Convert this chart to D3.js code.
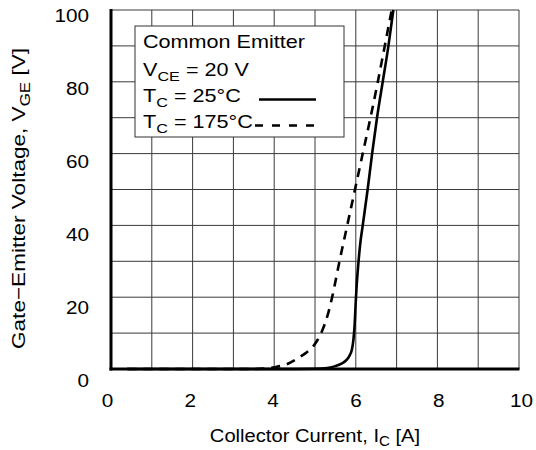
<!DOCTYPE html>
<html>
<head>
<meta charset="utf-8">
<script src="https://cdn.jsdelivr.net/npm/d3@7"></script>
<style>
  body { margin: 0; background: #fff; }
  svg { font-family: "Liberation Sans", Arial, Helvetica, sans-serif; }
</style>
</head>
<body>
<svg id="chart" width="536" height="450"></svg>
<script>
// Transfer curves
const ic25 = [0.4, 4.5, 5.0, 5.3, 5.5, 5.65, 5.78, 5.85, 5.9, 5.94, 5.97, 6.0, 6.02, 6.06, 6.11, 6.17, 6.29, 6.40, 6.52, 6.66, 6.80, 6.92];
const vge25 = [0, 0, 0.05, 0.3, 0.8, 1.5, 2.6, 3.8, 5.2, 8, 12, 19, 23, 29, 35, 40, 50, 60, 70, 80, 90, 100];
const ic175 = [0.4, 3.5, 4.0, 4.3, 4.55, 4.78, 4.9, 5.02, 5.17, 5.31, 5.42, 5.60, 5.79, 5.98, 6.17, 6.36, 6.54, 6.71, 6.88];
const vge175 = [0, 0, 0.5, 1.3, 2.8, 4.5, 5.6, 7.3, 10.5, 15, 20, 30, 40, 50, 60, 70, 80, 90, 100];

const xTicks = [0, 2, 4, 6, 8, 10];
const yTicks = [0, 20, 40, 60, 80, 100];
const xGrid = d3.range(0, 11, 1);
const yGrid = d3.range(0, 101, 10);

const svg = d3.select("#chart");
const pLeft = 111, pRight = 519, pTop = 10, pBottom = 369;
const fs = 18.5;

const x = d3.scaleLinear().domain([0, 10]).range([pLeft, pRight]);
const y = d3.scaleLinear().domain([0, 100]).range([pBottom, pTop]);
// tick labels in the original sit a little off the grid
const xLab = d3.scaleLinear().domain([0, 10]).range([107.5, 521.5]);
const yLab = d3.scaleLinear().domain([0, 100]).range([380, 15]);

// grid
const grid = svg.append("g").attr("stroke", "#3a3a3a").attr("stroke-width", 1);
grid.selectAll("line.vx").data(xGrid).enter().append("line")
    .attr("x1", d => x(d)).attr("x2", d => x(d))
    .attr("y1", pTop).attr("y2", pBottom);
grid.selectAll("line.hy").data(yGrid).enter().append("line")
    .attr("x1", pLeft).attr("x2", pRight)
    .attr("y1", d => y(d)).attr("y2", d => y(d));

// heavy left / bottom axes
svg.append("line").attr("x1", pLeft).attr("x2", pLeft).attr("y1", pTop - 1).attr("y2", pBottom + 1.5)
    .attr("stroke", "#000").attr("stroke-width", 3);
svg.append("line").attr("x1", pLeft - 1.5).attr("x2", pRight + 0.5).attr("y1", pBottom).attr("y2", pBottom)
    .attr("stroke", "#000").attr("stroke-width", 3);

// the original type is a bit wider than Liberation Sans, so stretch it horizontally
function wideText(parent, xp, yp, sx, anchor) {
    return parent.append("g").attr("transform", `translate(${xp},${yp}) scale(${sx},1)`)
        .append("text").attr("text-anchor", anchor).attr("font-size", fs);
}

// tick labels
xTicks.forEach(d => wideText(svg, xLab(d), 406.5, 1.12, "middle").text(d));
yTicks.forEach(d => wideText(svg, 89, yLab(d) + 6.6, 1.12, "end").text(d));

// curves
const line = d3.line().x(d => x(d[0])).y(d => y(d[1])).curve(d3.curveMonotoneX);
svg.append("path").datum(d3.zip(ic175, vge175))
    .attr("d", line).attr("fill", "none").attr("stroke", "#000")
    .attr("stroke-width", 2.6).attr("stroke-dasharray", "9,7");
svg.append("path").datum(d3.zip(ic25, vge25))
    .attr("d", line).attr("fill", "none").attr("stroke", "#000")
    .attr("stroke-width", 2.6);

function addParts(t, parts, size, drop) {
    parts.forEach(p => {
        if (p.sub) {
            t.append("tspan").attr("font-size", size * 0.75).attr("dy", drop).text(p.t);
        } else {
            t.append("tspan").attr("dy", p.reset ? -drop : 0).text(p.t);
        }
    });
    return t;
}

// legend
const lg = svg.append("g");
lg.append("rect").attr("x", 135).attr("y", 26).attr("width", 209).attr("height", 111)
    .attr("fill", "#fff").attr("stroke", "#333").attr("stroke-width", 1);
const lfs = 18;
function legendText(yp, parts) {
    const t = lg.append("g").attr("transform", `translate(143,${yp}) scale(1.2,1)`)
        .append("text").attr("font-size", lfs);
    return addParts(t, parts, lfs, 5);
}
legendText(48, [{t: "Common Emitter"}]);
legendText(75.5, [{t: "V"}, {t: "CE", sub: true}, {t: " = 20 V", reset: true}]);
legendText(101.5, [{t: "T"}, {t: "C", sub: true}, {t: " = 25\u00b0C", reset: true}]);
legendText(128, [{t: "T"}, {t: "C", sub: true}, {t: " = 175\u00b0C", reset: true}]);
lg.append("line").attr("x1", 259).attr("x2", 316).attr("y1", 99.5).attr("y2", 99.5)
    .attr("stroke", "#000").attr("stroke-width", 2.4);
lg.append("line").attr("x1", 255).attr("x2", 316).attr("y1", 125.5).attr("y2", 125.5)
    .attr("stroke", "#000").attr("stroke-width", 2.4).attr("stroke-dasharray", "8,9");

// axis titles
addParts(wideText(svg, 315, 442, 1.09, "middle"),
    [{t: "Collector Current, I"}, {t: "C", sub: true}, {t: " [A]", reset: true}], fs, 4);
const ytG = svg.append("g").attr("transform", "translate(25,198.5) rotate(-90) scale(1.22,1)");
addParts(ytG.append("text").attr("text-anchor", "middle").attr("font-size", fs),
    [{t: "Gate\u2212Emitter Voltage, V"}, {t: "GE", sub: true}, {t: " [V]", reset: true}], fs, 5);
</script>
</body>
</html>
